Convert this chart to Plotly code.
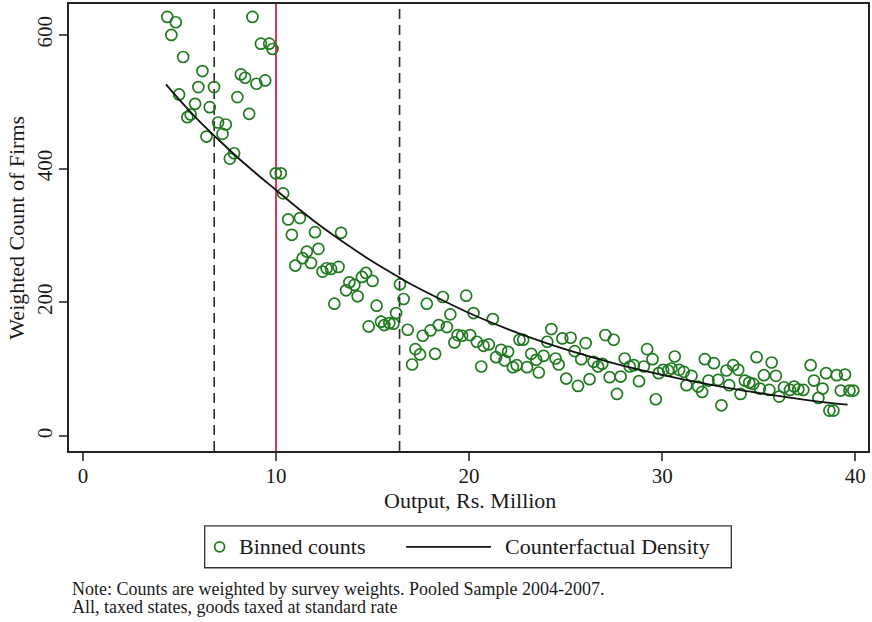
import plotly.graph_objects as go

# ---- data ----
bin_x = [4.37, 4.58, 4.81, 4.98, 5.19, 5.41, 5.58, 5.81, 5.98, 6.19, 6.40, 6.57, 6.79, 7.00, 7.23, 7.40,
         7.61, 7.83, 8.00, 8.18, 8.40, 8.61, 8.78, 8.99, 9.22, 9.44, 9.65, 9.82, 9.99, 10.25, 10.37, 10.63,
         10.82, 11.00, 11.24, 11.38, 11.60, 11.81, 12.02, 12.20, 12.41, 12.62, 12.85, 13.02, 13.24, 13.37,
         13.63, 13.80, 14.06, 14.23, 14.45, 14.66, 14.80, 15.00, 15.21, 15.44, 15.61, 15.87, 16.08, 16.22,
         16.42, 16.61, 16.82, 17.05, 17.22, 17.46, 17.60, 17.81, 18.00, 18.24, 18.43, 18.64, 18.85, 19.03,
         19.24, 19.41, 19.64, 19.85, 20.05, 20.23, 20.40, 20.63, 20.75, 21.02, 21.23, 21.40, 21.66, 21.84,
         22.02, 22.27, 22.47, 22.61, 22.80, 23.00, 23.22, 23.48, 23.61, 23.86, 24.05, 24.26, 24.48, 24.64,
         24.83, 25.03, 25.26, 25.47, 25.64, 25.81, 26.04, 26.24, 26.45, 26.68, 26.90, 27.06, 27.28, 27.49,
         27.66, 27.85, 28.06, 28.32, 28.53, 28.80, 29.05, 29.22, 29.50, 29.67, 29.82, 30.05, 30.31, 30.48,
         30.65, 30.88, 31.12, 31.26, 31.52, 31.86, 32.07, 32.21, 32.40, 32.68, 32.90, 33.07, 33.33, 33.47,
         33.68, 33.94, 34.06, 34.28, 34.51, 34.72, 34.89, 35.06, 35.27, 35.55, 35.67, 35.89, 36.06, 36.31,
         36.62, 36.83, 37.05, 37.31, 37.69, 37.86, 38.09, 38.31, 38.49, 38.66, 38.87, 39.04, 39.25, 39.47,
         39.70, 39.90]
bin_count = [627, 600, 619, 511, 567, 477, 481, 497, 522, 546, 448, 492, 522, 469, 452, 466,
             415, 423, 507, 541, 536, 482, 627, 527, 587, 532, 587, 579, 393, 393, 363, 324,
             301, 255, 326, 266, 276, 259, 305, 280, 246, 251, 250, 198, 253, 304,
             218, 230, 226, 209, 238, 244, 164, 232, 195, 171, 166, 169, 168, 184,
             227, 205, 159, 107, 130, 122, 150, 198, 158, 123, 166, 208, 163, 182,
             140, 151, 150, 210, 151, 184, 141, 104, 135, 137, 175, 118, 129, 113,
             126, 103, 106, 144, 144, 103, 123, 114, 95, 120, 141, 160, 116, 107,
             146, 86, 147, 127, 75, 115, 139, 85, 111, 104, 108, 151, 88, 144,
             63, 89, 116, 104, 106, 82, 104, 130, 115, 55, 94, 99, 98, 101,
             119, 99, 96, 76, 90, 74, 66, 115, 83, 109, 84, 46, 98, 76,
             106, 99, 63, 83, 80, 78, 118, 71, 91, 69, 110, 90, 59, 73,
             69, 74, 70, 69, 106, 83, 57, 71, 94, 38, 38, 91, 68, 92,
             68, 68]

curve_x = [4.3, 5, 6, 7, 8, 9, 10, 11, 12, 13, 14, 15, 16.4, 17, 18, 20, 22, 24, 26, 28, 30, 32, 34, 36, 38, 39.6]
curve_y = [526, 503, 472, 444, 417, 392, 368, 344, 321, 300, 280, 261, 237, 227, 212, 184, 160, 139, 121, 105,
           91.6, 79.5, 69, 60, 52, 47]

threshold = 10
band_low, band_high = 6.8, 16.4

x_ticks = [0, 10, 20, 30, 40]
y_ticks = [0, 200, 400, 600]

x_title = "Output, Rs. Million"
y_title = "Weighted Count of Firms"
legend_labels = ["Binned counts", "Counterfactual Density"]
note_lines = ["Note: Counts are weighted by survey weights. Pooled Sample 2004-2007.",
              "All, taxed states, goods taxed at standard rate"]

# ---- styling ----
GREEN = "#1f7a1f"
RED = "#d8355f"
FONT = "Liberation Serif"
TXT = "#1a1a1a"

W, H = 872, 622
L, R, T, B = 69, 2, 3, 171
PW, PH = W - L - R, H - T - B


def px(x):
    return (x - L) / PW


def py(y):
    return (H - B - y) / PH


fig = go.Figure()
fig.add_trace(go.Scatter(x=bin_x, y=bin_count, mode="markers", name=legend_labels[0],
                         marker=dict(symbol="circle-open", size=11, color=GREEN, line=dict(width=1.7, color=GREEN)),
                         showlegend=False))
fig.add_trace(go.Scatter(x=curve_x, y=curve_y, mode="lines", name=legend_labels[1],
                         line=dict(color="#111111", width=1.8, shape="spline"), showlegend=False))

for xv in (band_low, band_high):
    fig.add_shape(type="line", xref="x", yref="paper", x0=xv, x1=xv, y0=0, y1=1,
                  line=dict(color="#2a2a2a", width=1.6, dash="10px,6px"), layer="below")
fig.add_shape(type="line", xref="x", yref="paper", x0=threshold, x1=threshold, y0=0, y1=1,
              line=dict(color=RED, width=2), layer="below")

# manual legend
fig.add_shape(type="rect", xref="paper", yref="paper", x0=px(205), x1=px(733), y0=py(526), y1=py(568),
              line=dict(color="#333333", width=1.3), fillcolor="white")
fig.add_shape(type="circle", xref="paper", yref="paper", xsizemode="pixel", ysizemode="pixel",
              xanchor=px(220), yanchor=py(547), x0=-5, x1=5, y0=-5, y1=5,
              line=dict(color=GREEN, width=1.7))
fig.add_shape(type="line", xref="paper", yref="paper", x0=px(407), x1=px(492), y0=py(547), y1=py(547),
              line=dict(color="#111111", width=1.8))

ann = []
ann.append(dict(text=legend_labels[0], x=px(238), y=py(547), xanchor="left", yanchor="middle"))
ann.append(dict(text=legend_labels[1], x=px(505), y=py(547), xanchor="left", yanchor="middle"))
ann.append(dict(text=x_title, x=px(471), y=py(500.5), xanchor="center", yanchor="middle"))
ann.append(dict(text=y_title, x=px(16), y=py(227), xanchor="center", yanchor="middle", textangle=-90))
for a in ann:
    a.update(xref="paper", yref="paper", showarrow=False, borderpad=0,
             font=dict(family=FONT, size=22, color=TXT))
    fig.add_annotation(**a)
for line, yy in zip(note_lines, (589.5, 607.5)):
    fig.add_annotation(text=line, x=px(71), y=py(yy), xref="paper", yref="paper", showarrow=False,
                       borderpad=0, xanchor="left", yanchor="middle",
                       font=dict(family=FONT, size=18, color=TXT))

axis_common = dict(showline=True, mirror=True, linecolor="#222222", linewidth=1.5, showgrid=False,
                   zeroline=False, ticks="outside", ticklen=8, tickwidth=1.5, tickcolor="#555555",
                   tickfont=dict(family=FONT, size=21, color=TXT))
fig.update_xaxes(range=[-0.72, 40.66], tickvals=x_ticks, ticklabelstandoff=-3, **axis_common)
fig.update_yaxes(range=[-22.4, 646.3], tickvals=y_ticks, tickangle=-90, ticklabelstandoff=-1, **axis_common)

fig.update_layout(width=W, height=H, margin=dict(l=L, r=R, t=T, b=B),
                  paper_bgcolor="white", plot_bgcolor="white", showlegend=False,
                  font=dict(family=FONT, color=TXT))

fig.write_html("out.html", config={"displayModeBar": False},
               post_script="document.body.style.margin='0';document.body.style.padding='0';")
